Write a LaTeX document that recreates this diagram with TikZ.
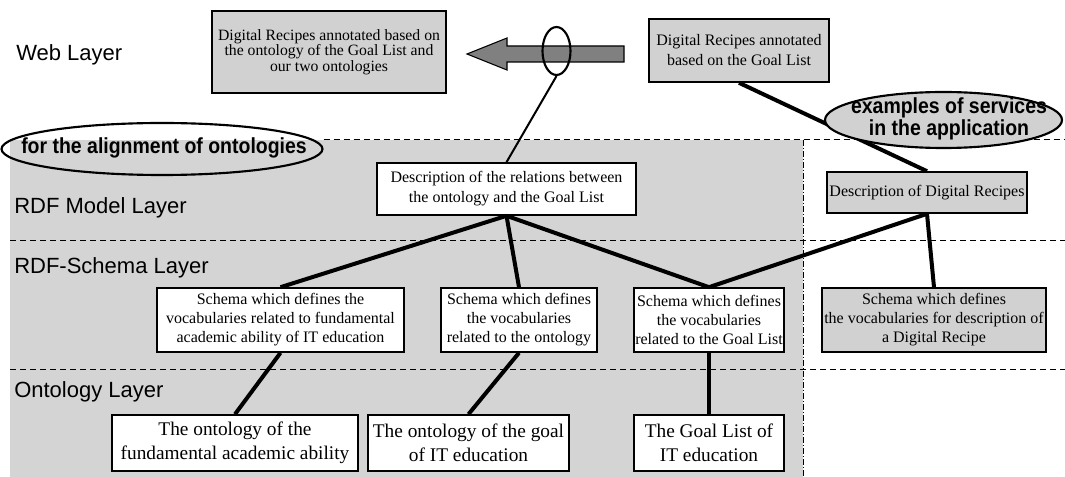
\documentclass[tikz,border=0pt]{standalone}
\usepackage{fontspec}
\usepackage{graphicx}
\setmainfont{Liberation Serif}
\setsansfont{Liberation Sans}
\usetikzlibrary{shapes.geometric}

\definecolor{areagray}{gray}{0.83}
\definecolor{boxgray}{gray}{0.82}
\definecolor{arrowgray}{gray}{0.5}

\newcommand{\tallbold}[1]{\scalebox{1}[1.12]{#1}}

\begin{document}
\begin{tikzpicture}[x=0.75pt, y=-0.75pt,
    box/.style={draw, line width=1.2pt, fill=white, align=center, inner sep=0pt,
        minimum height=48pt, font=\fontsize{12}{14.3}\selectfont},
    shadedbox/.style={box, fill=boxgray},
    bigbox/.style={box, minimum height=42pt, font=\fontsize{14.5}{18}\selectfont},
    layerlabel/.style={anchor=west, inner sep=0pt, font=\sffamily\fontsize{16.5}{20}\selectfont},
    tag/.style={ellipse, draw, line width=1.6pt, inner sep=0pt},
    tagtext/.style={align=center, inner sep=0pt, font=\sffamily\bfseries\fontsize{14.6}{16.5}\selectfont},
    link/.style={line width=3pt},
    layerline/.style={line width=0.75pt, dash pattern=on 4.5pt off 3pt}]

    \useasboundingbox (0,0) rectangle (1065,477);

    % Area of the alignment
    \fill[areagray] (10,140) rectangle (803,477);

    % Ellipse of the alignment
    \node[tag, minimum width=240.75pt, minimum height=39pt] (ali) at (162,149) {};
    \node[tagtext] (alitext) at (164,148) {\tallbold{for the alignment of ontologies}};

    % Layer borders
    \coordinate (top) at (0,140);
    \draw[layerline] (ali.east |- top) -- (1065,140);
    \draw[layerline] (10,241) -- (1065,241);
    \draw[layerline] (10,370) -- (1065,370);
    \draw[line width=0.75pt, dash pattern=on 4.5pt off 1.5pt on 0.75pt off 1.5pt] (803,140) -- (803,477);

    % Layer names
    \node[layerlabel] (web) at (16,55) {Web Layer};
    \node[layerlabel] (model) at (14,208) {RDF Model Layer};
    \node[layerlabel] (schema) at (14,268) {RDF-Schema Layer};
    \node[layerlabel] (onto) at (14,392) {Ontology Layer};

    % Web layer
    \node[shadedbox, minimum width=175.5pt, minimum height=61.5pt,
        font=\fontsize{11.8}{11.8}\selectfont] (annoall) at (329,52)
        {Digital Recipes annotated based on\\the ontology of the Goal List and\\our two ontologies};
    \node[shadedbox, minimum width=135pt, minimum height=47.25pt, font=\fontsize{12}{15}\selectfont]
        (annogoal) at (739,50.5) {Digital Recipes annotated\\based on the Goal List};

    % Arrow
    \draw[fill=arrowgray, line width=0.8pt] (467,54) -- (507,38) -- (507,46) -- (624,46)
        -- (624,62) -- (507,62) -- (507,70) -- cycle;
    \node[tag, minimum width=21pt, minimum height=36pt] (sel) at (556.5,51) {};

    % RDF model layer
    \node[box, minimum width=194.25pt, minimum height=39pt, font=\fontsize{12}{15}\selectfont]
        (rel) at (506.5,189) {Description of the relations between\\the ontology and the Goal List};
    \node[shadedbox, minimum width=150pt, minimum height=30.75pt] (desc) at (927,192.5)
        {Description of Digital Recipes};

    % RDF-Schema layer
    \node[box, minimum width=185.25pt] (sfund) at (280.5,320)
        {Schema which defines the\\vocabularies related to fundamental\\academic ability of IT education};
    \node[box, minimum width=117pt] (sonto) at (519,320)
        {Schema which defines\\the vocabularies\\related to the ontology};
    \node[box, minimum width=112.5pt] (sgoal) at (709,320)
        {Schema which defines\\the vocabularies\\related to the Goal List};
    \node[shadedbox, minimum width=168pt] (srecipe) at (934,320)
        {Schema which defines\\the vocabularies for description of\\a Digital Recipe};

    % Ontology layer
    \node[bigbox, minimum width=184.5pt] (ofund) at (235,443)
        {The ontology of the\\fundamental academic ability};
    \node[bigbox, minimum width=150.75pt] (ogoal) at (468.5,443)
        {The ontology of the goal\\of IT education};
    \node[bigbox, minimum width=112.5pt] (glist) at (709,443)
        {The Goal List of\\IT education};

    % Links
    \draw[line width=1.5pt] (sel.south) -- (rel.north);
    \draw[link] (annogoal.south) -- (desc.north);
    \draw[link] (rel.south) -- (sfund.north);
    \draw[link] (rel.south) -- (sonto.north);
    \draw[link] (rel.south) -- (sgoal.north);
    \draw[link] (desc.south) -- (sgoal.north);
    \draw[link] (desc.south) -- (srecipe.north);
    \draw[link] (sfund.south) -- (ofund.north);
    \draw[link] (sonto.south) -- (ogoal.north);
    \draw[link] (sgoal.south) -- (glist.north);

    % Services
    \node[tag, fill=boxgray, minimum width=177.75pt, minimum height=42pt] (serv) at (943.5,120) {};
    \node[tagtext] (servtext) at (949,119) {\tallbold{examples of services}\\\tallbold{in the application}};

\end{tikzpicture}
\end{document}
